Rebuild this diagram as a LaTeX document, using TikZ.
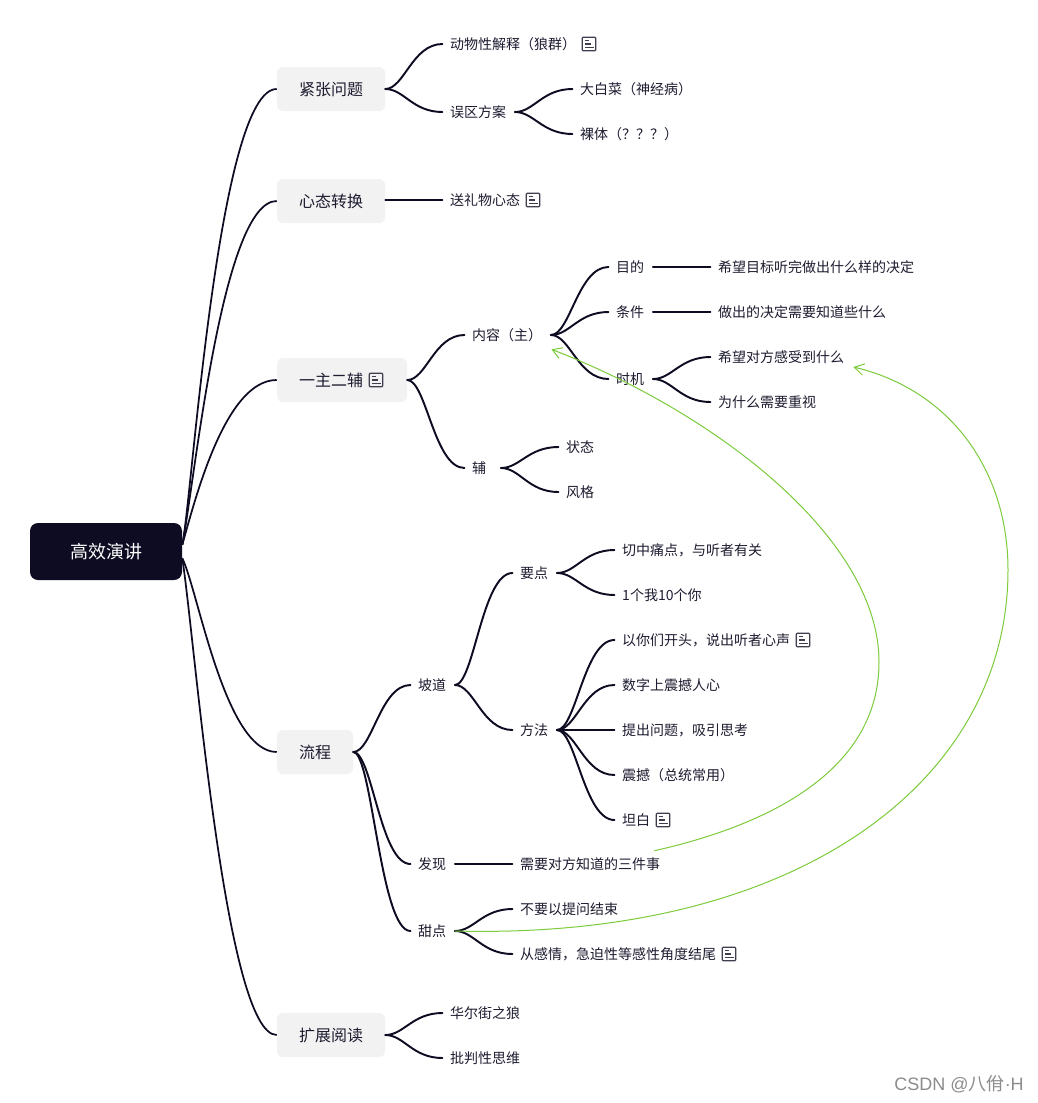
\documentclass[tikz,border=0pt]{standalone}
\usepackage{fontspec}
\usetikzlibrary{arrows.meta,calc}
\setmainfont{Noto Sans CJK SC}
\newfontfamily\wmfont{Liberation Sans}
\definecolor{ink}{HTML}{0D0C22}
\definecolor{txt}{HTML}{1D1C30}
\definecolor{boxfill}{HTML}{F2F2F2}
\definecolor{grn}{HTML}{7BCB3A}
\newcommand\treeline[2]{\draw[conn] (#1.east) .. controls ($(#1.east)!.33!(#2.west |- #1.east)$) and ($(#2.west)!.53!(#1.east |- #2.west)$) .. (#2.west);}
\tikzset{
  x=0.75pt,y=-0.75pt,
  rootbox/.style={draw=none,fill=ink,text=white,rounded corners=6pt,minimum width=114pt,minimum height=42.75pt,inner sep=0pt,font=\fontsize{13.5pt}{16pt}\selectfont,text height=11.25pt,text depth=1.25pt},
  mainbox/.style={draw=none,fill=boxfill,text=txt,rounded corners=4.5pt,minimum height=33pt,inner sep=0pt,font=\fontsize{12pt}{14pt}\selectfont,text height=10.25pt,text depth=0.75pt},
  leaf/.style={anchor=west,text=txt,inner xsep=5.6pt,inner ysep=0pt,font=\fontsize{10.5pt}{13pt}\selectfont,text height=9.35pt,text depth=0.45pt,execute at end node={\hspace*{0.75pt}}},
  conn/.style={draw=ink,line width=1.45pt,line cap=round},
  rootconn/.style={draw=ink,line width=1.3pt},
  link/.style={draw=grn,line width=0.75pt,-{Straight Barb[length=7pt,width=8.5pt,line width=0.75pt]}},
  iconline/.style={draw=txt!85!white,line width=0.9pt},
  noteicon/.pic={
    \draw[iconline,rounded corners=0.8pt] (-6.8,-6.8) rectangle (6.8,6.8);
    \draw[iconline,line width=0.8pt] (-4.2,-3.6) -- (-0.5,-3.6) (-4.2,0) -- (1.5,0) (-4.2,3.6) -- (4.5,3.6);
  }
}
\begin{document}
\begin{tikzpicture}
\useasboundingbox[fill=white] (0,0) rectangle (1038,1103);
% root and main boxes
\node[rootbox] (root) at (106,551.5) {高效演讲};
\node[mainbox,minimum width=81pt] (jz) at (331,89) {紧张问题};
\node[mainbox,minimum width=81pt] (xt) at (331,201) {心态转换};
\node[mainbox,minimum width=97.5pt,align=left] (yz) at (342,380) {一主二辅\hspace{16.5pt}};
\node[mainbox,minimum width=57pt] (lc) at (315,752) {流程};
\node[mainbox,minimum width=81pt] (kz) at (331,1035) {扩展阅读};
\pic at (376,380) {noteicon};
% level 2
\node[leaf] (dw) at (442.5,44) {动物性解释（狼群）};
\pic at (589,44) {noteicon};
\node[leaf] (wq) at (442.5,112) {误区方案};
\node[leaf] (dbc) at (572.5,89) {大白菜（神经病）};
\node[leaf] (lt) at (572.5,134) {裸体（？？？）};
\node[leaf] (sl) at (442.5,200) {送礼物心态};
\pic at (533,200) {noteicon};
\node[leaf] (nr) at (464.5,335) {内容（主）};
\node[leaf,text width=15.75pt,align=left] (fu) at (464.5,468) {辅};
\node[leaf] (md) at (608.5,267) {目的};
\node[leaf] (tj) at (608.5,312) {条件};
\node[leaf] (sj) at (608.5,379) {时机};
\node[leaf] (md2) at (710.5,267) {希望目标听完做出什么样的决定};
\node[leaf] (tj2) at (710.5,312) {做出的决定需要知道些什么};
\node[leaf] (sj1) at (710.5,357) {希望对方感受到什么};
\node[leaf] (sj2) at (710.5,402) {为什么需要重视};
\node[leaf] (zt) at (558.5,447) {状态};
\node[leaf] (fg) at (558.5,492) {风格};
\node[leaf] (pd) at (410.5,685) {坡道};
\node[leaf] (fx) at (410.5,864) {发现};
\node[leaf] (td) at (410.5,931) {甜点};
\node[leaf] (yd) at (512.5,573) {要点};
\node[leaf] (ff) at (512.5,730) {方法};
\node[leaf] (qz) at (614.5,550) {切中痛点，与听者有关};
\node[leaf] (yg) at (614.5,595) {1个我10个你};
\node[leaf] (ynm) at (614.5,640) {以你们开头，说出听者心声};
\pic at (803,640) {noteicon};
\node[leaf] (sz) at (614.5,685) {数字上震撼人心};
\node[leaf] (tc) at (614.5,730) {提出问题，吸引思考};
\node[leaf] (zh) at (614.5,775) {震撼（总统常用）};
\node[leaf] (tb) at (614.5,820) {坦白};
\pic at (663,820) {noteicon};
\node[leaf] (xy) at (512.5,864) {需要对方知道的三件事};
\node[leaf] (bw) at (512.5,909) {不要以提问结束};
\node[leaf] (cg) at (512.5,954) {从感情，急迫性等感性角度结尾};
\pic at (729,954) {noteicon};
\node[leaf] (he) at (442.5,1013) {华尔街之狼};
\node[leaf] (pp) at (442.5,1058) {批判性思维};
% root connectors
\draw[rootconn] (root.5) .. controls (192,500) and (218,89) .. (jz.west);
\draw[rootconn] (root.5) .. controls (195,480) and (222,201) .. (xt.west);
\draw[rootconn] (root.5) .. controls (195,500) and (225,380) .. (yz.west);
\draw[rootconn] (root.-5) .. controls (198,590) and (225,752) .. (lc.west);
\draw[rootconn] (root.-5) .. controls (195,640) and (225,1035) .. (kz.west);
% tree connectors
\treeline{jz}{dw}
\treeline{jz}{wq}
\treeline{wq}{dbc}
\treeline{wq}{lt}
\draw[conn] (xt.east |- sl.west) -- (sl.west);
\treeline{yz}{nr}
\treeline{yz}{fu}
\treeline{nr}{md}
\treeline{nr}{tj}
\treeline{nr}{sj}
\draw[conn] (md.east) -- (md2.west);
\draw[conn] (tj.east) -- (tj2.west);
\treeline{sj}{sj1}
\treeline{sj}{sj2}
\treeline{fu}{zt}
\treeline{fu}{fg}
\treeline{lc}{pd}
\treeline{lc}{fx}
\treeline{lc}{td}
\treeline{pd}{yd}
\treeline{pd}{ff}
\treeline{yd}{qz}
\treeline{yd}{yg}
\treeline{ff}{ynm}
\treeline{ff}{sz}
\draw[conn] (ff.east) -- (tc.west);
\treeline{ff}{zh}
\treeline{ff}{tb}
\draw[conn] (fx.east) -- (xy.west);
\treeline{td}{bw}
\treeline{td}{cg}
\treeline{kz}{he}
\treeline{kz}{pp}
% association links
\draw[link] ($(xy.north east)+(-14.5,-6.5)$) .. controls (760,827) and (879,775) .. (879,662) .. controls (879,540) and (720,415) .. ($(nr.south east)+(0.5,7.5)$);
\draw[link] (td.east) .. controls (800,940) and (1008,780) .. (1008,570) .. controls (1008,470) and (950,390) .. ($(sj1.east)+(0.5,10)$);
% watermark
\node[text=black!45,anchor=east,inner sep=0pt,font=\fontsize{13.5pt}{16pt}\selectfont] (wm) at (1024,1084) {{\wmfont CSDN @}八佾{\wmfont ·H}};
\end{tikzpicture}
\end{document}
